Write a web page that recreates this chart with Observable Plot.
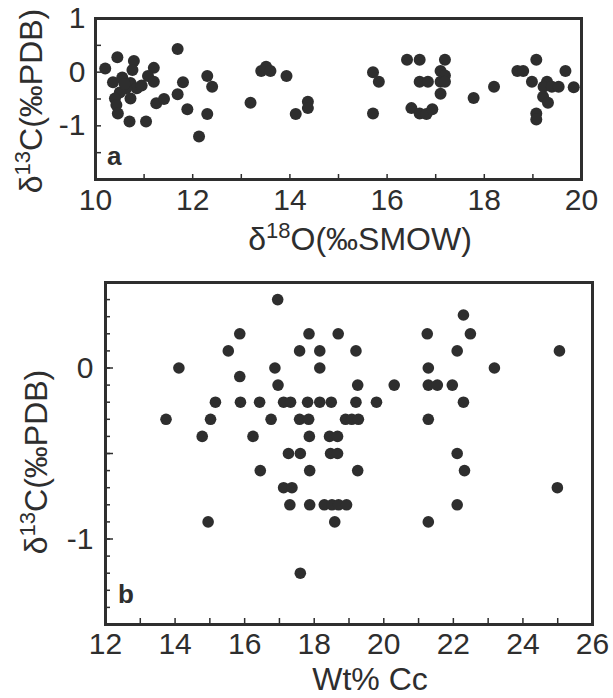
<!DOCTYPE html>
<html>
<head>
<meta charset="utf-8">
<script src="https://cdn.jsdelivr.net/npm/d3@7"></script>
<script src="https://cdn.jsdelivr.net/npm/@observablehq/plot@0.6"></script>
<style>
  body { margin: 0; background: #fff; }
  #chart { width: 613px; height: 698px; }
  #chart svg { display: block; }
</style>
</head>
<body>
<div id="chart"></div>
<script>
// ---- Panel a: δ13C vs δ18O ----
const aO18 = [10.20,10.45,10.79,10.76,11.20,11.08,11.20,10.36,10.55,10.72,10.85,10.63,10.50,10.40,10.72,10.43,10.46,10.70,11.04,11.25,11.41,10.60,10.95,
  11.69,11.80,11.69,11.89,12.30,12.40,12.30,12.13,13.19,13.41,13.51,13.60,13.93,14.12,14.37,14.37,
  15.71,15.83,15.71,16.41,16.67,16.67,16.84,16.50,16.67,16.81,16.93,17.19,17.10,17.19,17.10,17.19,17.10,
  17.78,18.20,18.68,18.80,19.07,18.98,19.29,19.22,19.39,19.53,19.67,19.84,19.21,19.31,19.07,19.07];
const aC13 = [0.07,0.28,0.21,0.04,0.08,-0.07,-0.18,-0.19,-0.10,-0.20,-0.30,-0.30,-0.38,-0.49,-0.49,-0.61,-0.77,-0.92,-0.92,-0.58,-0.50,-0.22,-0.25,
  0.43,-0.19,-0.41,-0.69,-0.07,-0.27,-0.78,-1.20,-0.57,0.02,0.10,0.02,-0.07,-0.78,-0.55,-0.67,
  0.00,-0.18,-0.77,0.23,0.23,-0.18,-0.18,-0.67,-0.77,-0.78,-0.69,0.23,0.02,-0.06,-0.18,-0.18,-0.40,
  -0.48,-0.27,0.02,0.02,0.23,-0.18,-0.18,-0.27,-0.27,-0.27,0.02,-0.28,-0.46,-0.57,-0.77,-0.88];

// ---- Panel b: δ13C vs Wt% Cc ----
const bWt = [16.95,22.29,15.86,17.85,18.69,21.25,22.49,15.53,17.58,18.16,19.20,22.11,25.05,14.11,16.87,18.16,21.28,23.18,15.86,
  16.96,19.25,20.30,21.28,21.54,21.97,15.16,15.88,16.43,17.12,17.32,17.81,18.16,18.49,19.20,19.79,22.29,
  13.74,15.02,16.76,17.58,17.84,18.90,19.08,19.27,21.28,14.78,16.24,17.86,18.44,18.67,17.26,17.60,18.47,18.67,22.11,
  16.45,17.87,19.25,22.32,17.12,17.36,24.99,17.30,17.87,18.29,18.51,18.70,18.93,22.11,14.95,18.59,21.28,17.60];
const bC13 = [0.4,0.31,0.2,0.2,0.2,0.2,0.2,0.1,0.1,0.1,0.1,0.1,0.1,0,0,0,0,0,-0.05,
  -0.1,-0.1,-0.1,-0.1,-0.1,-0.1,-0.2,-0.2,-0.2,-0.2,-0.2,-0.2,-0.2,-0.2,-0.2,-0.2,-0.2,
  -0.3,-0.3,-0.3,-0.3,-0.3,-0.3,-0.3,-0.3,-0.3,-0.4,-0.4,-0.4,-0.4,-0.4,-0.5,-0.5,-0.5,-0.5,-0.5,
  -0.6,-0.6,-0.6,-0.6,-0.7,-0.7,-0.7,-0.8,-0.8,-0.8,-0.8,-0.8,-0.8,-0.8,-0.9,-0.9,-0.9,-1.2];

// ---- tick labels ----
const aXTicks = [10, 12, 14, 16, 18, 20];
const aYTicks = [1, 0, -1];
const bXTicks = [12, 14, 16, 18, 20, 22, 24, 26];
const bYTicks = [0, -1];
const aXMinor = d3.range(10, 20.5, 1);
const aYMinor = d3.range(-2, 1.01, 0.5);
const bXMinor = d3.range(12, 26.5, 1);
const bYMinor = d3.range(-15, 6, 1).map(d => d / 10);
const bYMajor = [-1.5, -1, -0.5, 0, 0.5];

const ink = "#2e2e2e";
const font = "'Liberation Sans', Arial, Helvetica, sans-serif";
const fmt = d => String(d);

const dataA = aO18.map((x, i) => ({x, y: aC13[i]}));
const dataB = bWt.map((x, i) => ({x, y: bC13[i]}));

// Panel a geometry (frame: x 95..581, y 18..179)
const hA = 265;
const plotA = Plot.plot({
  width: 613, height: hA,
  marginLeft: 95, marginRight: 32, marginTop: 18, marginBottom: hA - 179,
  x: {domain: [10, 20], label: null, axis: null},
  y: {domain: [-2, 1], label: null, axis: null},
  style: {fontFamily: font, fontSize: "30px", color: ink, background: "transparent"},
  marks: [
    Plot.tickX(aXMinor, {x: d => d, insetTop: 161 - 5, stroke: ink, strokeWidth: 1.5}),
    Plot.tickY(aYMinor, {y: d => d, insetRight: 486 - 6, stroke: ink, strokeWidth: 1.5}),
    Plot.axisX(aXTicks, {anchor: "bottom", tickSize: 0, tickPadding: 9, tickFormat: fmt, label: null, fill: ink}),
    Plot.axisY(aYTicks, {anchor: "left", tickSize: 0, tickPadding: 10, tickFormat: fmt, label: null, fill: ink}),
    Plot.dot(dataA, {x: "x", y: "y", r: 6, fill: ink, stroke: "none"}),
    Plot.frame({stroke: ink, strokeWidth: 3})
  ]
});

// Panel b geometry (frame: x 105..592, y 282..624 absolute)
const hB = 698 - hA;
const plotB = Plot.plot({
  width: 613, height: hB,
  marginLeft: 105, marginRight: 21, marginTop: 282 - hA, marginBottom: hB - (624 - hA),
  x: {domain: [12, 26], label: null, axis: null},
  y: {domain: [-1.5, 0.5], label: null, axis: null},
  style: {fontFamily: font, fontSize: "30px", color: ink, background: "transparent"},
  marks: [
    Plot.tickX(bXMinor, {x: d => d, insetTop: 342 - 6, stroke: ink, strokeWidth: 1.5}),
    Plot.tickY(bYMinor, {y: d => d, insetRight: 487 - 5, stroke: ink, strokeWidth: 1.5}),
    Plot.tickY(bYMajor, {y: d => d, insetRight: 487 - 8, stroke: ink, strokeWidth: 1.5}),
    Plot.axisX(bXTicks, {anchor: "bottom", tickSize: 0, tickPadding: 8, tickFormat: fmt, label: null, fill: ink}),
    Plot.axisY(bYTicks, {anchor: "left", tickSize: 0, tickPadding: 12, tickFormat: fmt, label: null, fill: ink}),
    Plot.dot(dataB, {x: "x", y: "y", r: 5.8, fill: ink, stroke: "none"}),
    Plot.frame({stroke: ink, strokeWidth: 3})
  ]
});

// Titles with superscripts
const tSize = 32, supSize = 22;
function yTitle(svg, x, y) {
  const t = d3.select(svg).append("text")
    .attr("transform", `translate(${x},${y}) rotate(-90)`)
    .attr("text-anchor", "middle")
    .attr("font-family", font).attr("font-size", tSize).attr("fill", ink);
  t.append("tspan").text("δ");
  t.append("tspan").attr("font-size", supSize).attr("dy", -12).text("13");
  t.append("tspan").attr("dy", 12).text("C(‰PDB)");
}
function label(svg, x, y, txt, opts = {}) {
  d3.select(svg).append("text")
    .attr("x", x).attr("y", y)
    .attr("text-anchor", opts.anchor || "middle")
    .attr("font-family", font).attr("font-size", opts.size || tSize)
    .attr("font-weight", opts.weight || "normal")
    .attr("fill", ink).text(txt);
}

yTitle(plotA, 42, 101);
{
  const t = d3.select(plotA).append("text")
    .attr("x", 360).attr("y", 250).attr("text-anchor", "middle")
    .attr("font-family", font).attr("font-size", tSize).attr("fill", ink);
  t.append("tspan").text("δ");
  t.append("tspan").attr("font-size", supSize).attr("dy", -12).text("18");
  t.append("tspan").attr("dy", 12).text("O(‰SMOW)");
}
label(plotA, 107, 165, "a", {anchor: "start", size: 26, weight: "bold"});

yTitle(plotB, 47, 462 - hA);
label(plotB, 370, 690 - hA, "Wt% Cc");
label(plotB, 118, 603 - hA, "b", {anchor: "start", size: 26, weight: "bold"});

document.getElementById("chart").append(plotA, plotB);
</script>
</body>
</html>
